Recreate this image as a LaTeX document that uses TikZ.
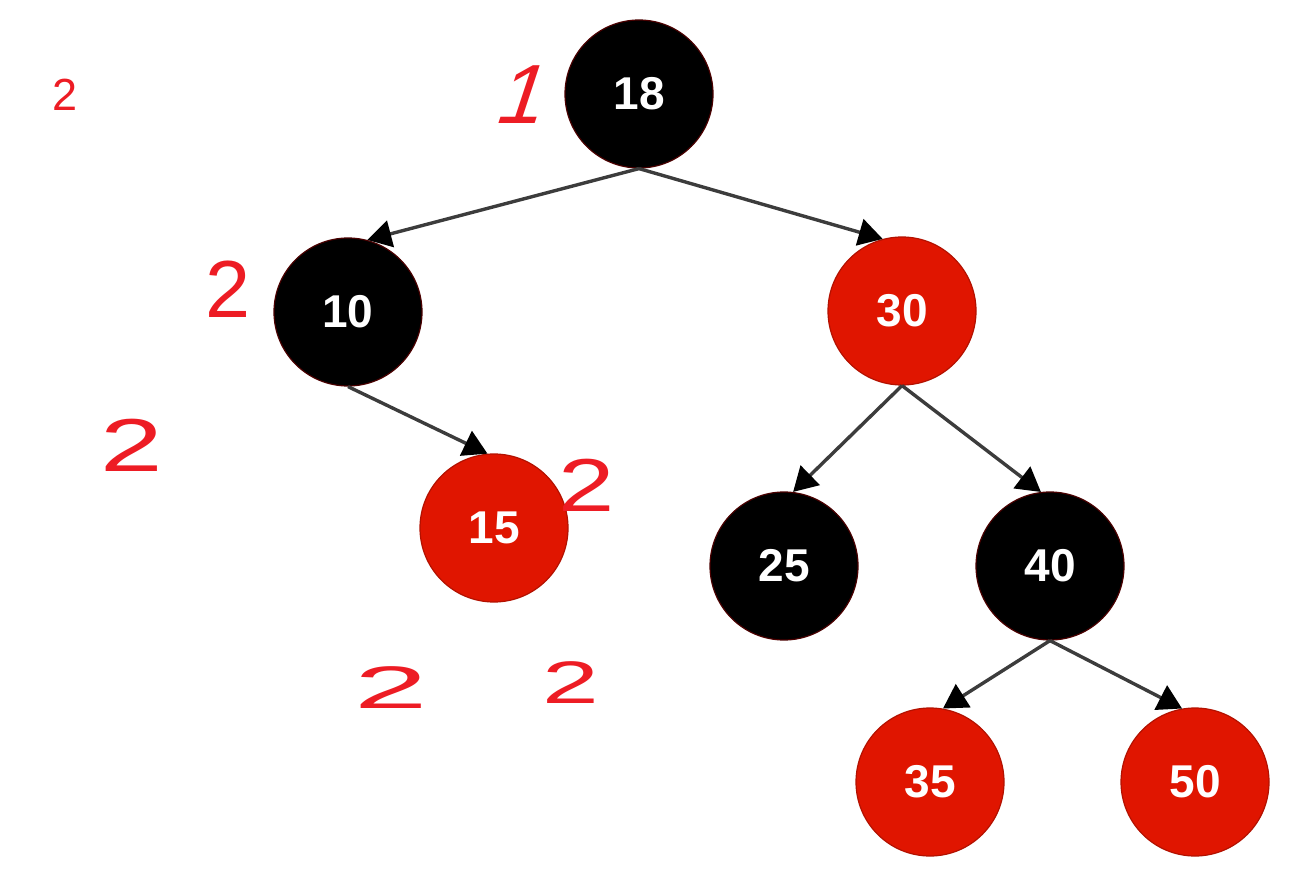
\documentclass[tikz,border=0pt]{standalone}
\usepackage{fontspec}
\setmainfont{Liberation Sans}
\usetikzlibrary{arrows.meta}
\definecolor{nodered}{HTML}{E01500}
\definecolor{inkred}{HTML}{ED1C24}
\definecolor{rimred}{HTML}{4A0000}
\definecolor{edgegray}{HTML}{3C3C3C}
\tikzset{
  rbnode/.style={circle, minimum size=148pt, inner sep=0pt, draw=rimred, line width=1.2pt,
    text=white, font=\fontsize{46}{52}\selectfont\bfseries},
  blk/.style={rbnode, fill=black},
  rd/.style={rbnode, fill=nodered, draw=nodered!80!black},
  edge/.style={draw=edgegray, line width=3.4pt, -{Triangle[length=24pt,width=27pt,color=black]}},
  ink/.style={text=inkred, inner sep=0pt, font=\fontsize{#1}{#1}\selectfont},
}
\begin{document}
\begin{tikzpicture}[x=1pt,y=-1pt]
\useasboundingbox (0,0) rectangle (1305,882);
\node[blk] (n18) at (639,94) {18};
\node[blk] (n10) at (348,312) {10};
\node[rd]  (n30) at (902,311) {30};
\node[rd]  (n15) at (494,528) {15};
\node[blk] (n25) at (784,566) {25};
\node[blk] (n40) at (1050,566) {40};
\node[rd]  (n35) at (930,782) {35};
\node[rd]  (n50) at (1195,782) {50};

\draw[edge] (n18.south) -- (n10.75);
\draw[edge] (n18.south) -- (n30.105);
\draw[edge] (n10.south) -- (n15.95);
\draw[edge] (n30.south) -- (n25.83);
\draw[edge] (n30.south) -- (n40.97);
\draw[edge] (n40.south) -- (n35.80);
\draw[edge] (n40.south) -- (n50.100);

\node[ink=45] (m0) at (65,95) {2};
\node[ink=84, xslant=0.33] (m1) at (525,95) {1};
\node[ink=81] (m2) at (228,289) {2};
\node[ink=75, xscale=1.5] (m3) at (132,445) {2};
\node[ink=75, xscale=1.35] (m4) at (587,485) {2};
\node[ink=60, xscale=2.2] (m5) at (391,688) {2};
\node[ink=60, xscale=1.7] (m6) at (571,683) {2};
\end{tikzpicture}
\end{document}
